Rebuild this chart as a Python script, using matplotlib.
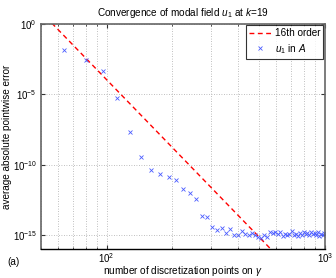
import numpy as np
import matplotlib
matplotlib.use("Agg")
import matplotlib.pyplot as plt
from matplotlib.ticker import LogLocator, NullFormatter, FixedLocator

plt.rcParams['font.family'] = ['Liberation Sans', 'DejaVu Sans']
plt.rcParams['mathtext.fontset'] = 'custom'
plt.rcParams['mathtext.rm'] = 'Liberation Sans'
plt.rcParams['mathtext.it'] = 'Liberation Sans:italic'

# Data
n_points = [64, 80, 96, 112, 128, 144, 160, 176, 192, 208, 224, 240, 256, 272, 288,
            304, 320, 336, 352, 368, 384, 400, 416, 432, 448, 464, 480, 496, 512, 528,
            544, 560, 576, 592, 608, 624, 640, 656, 672, 688, 704, 720, 736, 752, 768,
            784, 800, 816, 832, 848, 864, 880, 896, 912, 928, 944, 960, 976, 992]
log_err = [-1.84, -2.57, -3.38, -5.29, -7.69, -9.48, -10.40, -10.66, -10.86, -11.12,
           -11.74, -12.05, -12.45, -13.64, -13.69, -14.40, -14.67, -14.48, -14.84, -14.57,
           -15.00, -15.00, -14.69, -14.95, -15.00, -14.88, -15.00, -15.16, -15.24, -15.00,
           -15.16, -14.76, -14.85, -14.80, -14.95, -14.80, -15.05, -14.90, -15.00, -14.95,
           -14.75, -15.02, -14.95, -15.05, -14.88, -15.00, -14.80, -14.95, -14.85, -15.00,
           -14.80, -14.95, -14.85, -15.00, -14.82, -15.05, -14.90, -14.98, -14.85]
err = [10.0 ** v for v in log_err]

ref_x = [56.0, 560.0]
ref_y = [1.15e0, 1.15e-16]

fig = plt.figure(figsize=(3.36, 2.78), dpi=100)
ax = fig.add_axes([0.122, 0.104, 0.845, 0.810])

ax.loglog(ref_x, ref_y, color='red', linestyle=(0, (3.5, 2.5)), linewidth=1.0, label='16th order')
ax.loglog(n_points, err, linestyle='none', marker='x', color='#4a5cff', markersize=3.0,
          markeredgewidth=0.6, label=r'$u_1$ in $\mathit{A}$')

ax.set_xlim(50, 1000)
ax.set_ylim(1e-16, 1e0)
ax.set_yticks([1e-15, 1e-10, 1e-5, 1e0])
ax.yaxis.set_minor_locator(FixedLocator([]))
ax.xaxis.set_major_locator(FixedLocator([100, 1000]))
ax.xaxis.set_minor_locator(LogLocator(base=10, subs=np.arange(2, 10)))
ax.xaxis.set_minor_formatter(NullFormatter())

ax.grid(True, which='major', axis='both', linestyle=(0, (1, 2)), color='#aaaaaa', linewidth=0.6)
ax.grid(True, which='minor', axis='x', linestyle=(0, (1, 2)), color='#aaaaaa', linewidth=0.6)

ax.tick_params(which='both', direction='in', top=True, right=True, labelsize=7, pad=3,
               color='#333333')
ax.tick_params(axis='x', which='both', pad=1.5)
ax.tick_params(which='major', length=3)
ax.tick_params(which='minor', length=1.5)

for s in ['left', 'top', 'right']:
    ax.spines[s].set_color('#666666')
    ax.spines[s].set_linewidth(1.2)
ax.spines['bottom'].set_color('black')
ax.spines['bottom'].set_linewidth(1.0)

ax.set_title(r'Convergence of modal field $u_1$ at $k$=19', fontsize=7.2, pad=6)
ax.set_xlabel(r'number of discretization points on $\gamma$', fontsize=7.2)
ax.set_ylabel('average absolute pointwise error', fontsize=7.2)
ax.xaxis.set_label_coords(0.5, -0.068)
ax.yaxis.set_label_coords(-0.102, 0.5)

leg = ax.legend(loc='upper right', fontsize=7.2, frameon=True, fancybox=False,
                edgecolor='black', borderaxespad=0.15, handlelength=2.2,
                borderpad=0.3, labelspacing=0.35, handletextpad=0.4)
leg.get_frame().set_linewidth(0.8)

fig.text(0.022, 0.045, '(a)', fontsize=7.2)

fig.savefig('out.png', dpi=100)
